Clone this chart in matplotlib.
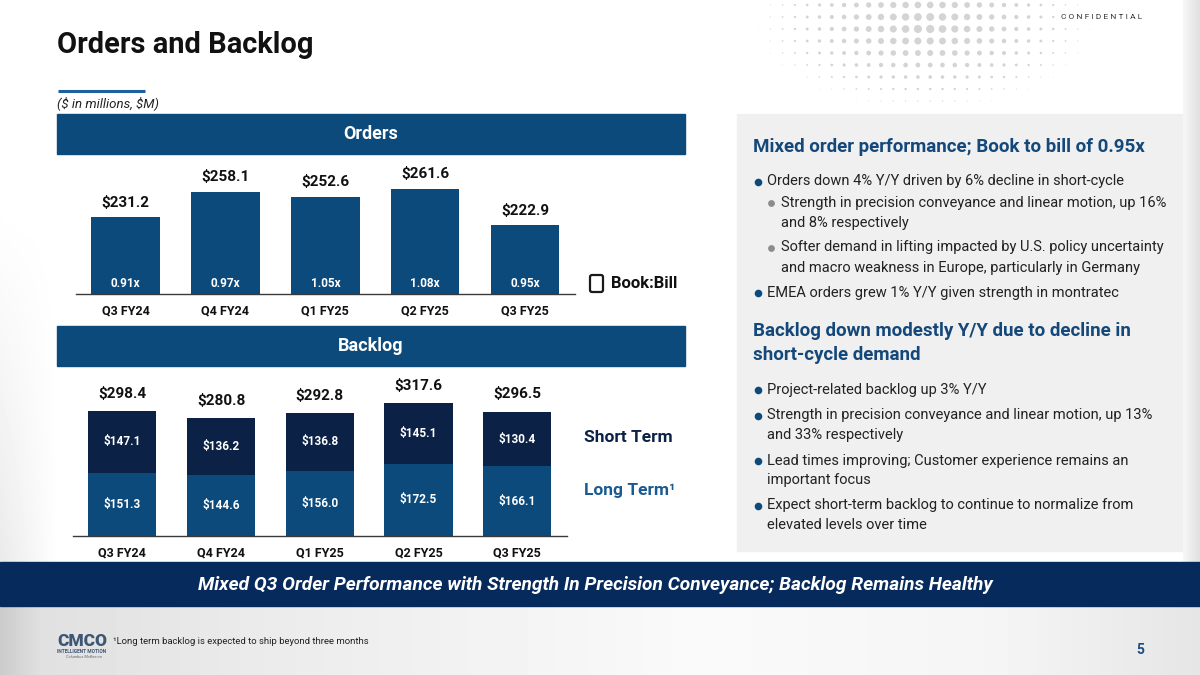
import matplotlib.pyplot as plt
import numpy as np
from matplotlib.patches import Rectangle, FancyBboxPatch

plt.rcParams['font.family'] = ['Roboto', 'DejaVu Sans']

# data
quarters = ["Q3 FY24", "Q4 FY24", "Q1 FY25", "Q2 FY25", "Q3 FY25"]
orders = [231.2, 258.1, 252.6, 261.6, 222.9]
book_to_bill = [0.91, 0.97, 1.05, 1.08, 0.95]
backlog_long = [151.3, 144.6, 156.0, 172.5, 166.1]
backlog_short = [147.1, 136.2, 136.8, 145.1, 130.4]
backlog_total = [298.4, 280.8, 292.8, 317.6, 296.5]

orders_points = [
    (0, "Orders down 4% Y/Y driven by 6% decline in short-cycle"),
    (1, "Strength in precision conveyance and linear motion, up 16%\nand 8% respectively"),
    (1, "Softer demand in lifting impacted by U.S. policy uncertainty\nand macro weakness in Europe, particularly in Germany"),
    (0, "EMEA orders grew 1% Y/Y given strength in montratec"),
]
backlog_points = [
    "Project-related backlog up 3% Y/Y",
    "Strength in precision conveyance and linear motion, up 13%\nand 33% respectively",
    "Lead times improving; Customer experience remains an\nimportant focus",
    "Expect short-term backlog to continue to normalize from\nelevated levels over time",
]

BLUE = "#0d4a7c"
NAVY = "#0b2145"
BANNER = "#072a5c"
HEAD = "#15487a"
W, H = 1200, 675


def rect(x0, y0, x1, y1):
    # pixel box (top-left origin) -> figure rect
    return [x0 / W, 1 - y1 / H, (x1 - x0) / W, (y1 - y0) / H]


fig = plt.figure(figsize=(12, 6.75), dpi=100)

# background layer in pixel coordinates
bg = fig.add_axes([0, 0, 1, 1], zorder=0)
bg.set_xlim(0, W)
bg.set_ylim(H, 0)
bg.axis("off")

# footer gradient
gx = np.linspace(0, W, 300)
shade = np.interp(gx, [0, 40, 250, 700, 1000, 1200], [0.80, 0.88, 0.92, 0.98, 0.96, 0.90])
bg.imshow(np.tile(shade, (2, 1)), cmap="gray", vmin=0, vmax=1,
          extent=[0, W, H, 606], aspect="auto", zorder=0)
# right edge strip
strip = np.interp(np.linspace(0, 1, 20), [0, 1], [0.97, 0.88])
bg.imshow(np.tile(strip, (2, 1)), cmap="gray", vmin=0, vmax=1,
          extent=[1183, W, 562, 0], aspect="auto", zorder=0)
# faint left edge shading, fading towards the top
lx, ly = np.meshgrid(np.linspace(1, 0, 30), np.linspace(0, 1, 60))
bg.imshow(1 - 0.08 * lx * ly, cmap="gray", vmin=0, vmax=1,
          extent=[0, 60, 562, 200], aspect="auto", zorder=0)

# halftone dots top right
dx, dy = np.meshgrid(np.arange(758, 1110, 12.3), np.arange(5, 106, 12))
rad = 1 - np.sqrt(((dx - 925) / 180.0) ** 2 + ((dy - 25) / 90.0) ** 2)
keep = rad > 0.03
bg.scatter(dx[keep], dy[keep], s=(2 * 4.3 * rad[keep] * 0.72) ** 2,
           color="#d4d4d4", linewidths=0, zorder=1)

bg.text(1142, 17, "C O N F I D E N T I A L", fontsize=6, color="#333333",
        ha="right", va="center")

# title
bg.text(57, 45, "Orders and Backlog", fontsize=20.9, fontweight="bold",
        color="#111111", ha="left", va="center")
bg.plot([58, 145], [90.7, 90.7], color="#1d5fa3", lw=2.2, solid_capstyle="butt")
bg.text(57, 103, r"(\$ in millions, \$M)", fontsize=9.5, fontstyle="italic",
        color="#222222", ha="left", va="center")

# section headers
for y0, label in [(114, "Orders"), (326, "Backlog")]:
    bg.add_patch(Rectangle((57, y0), 628, 40, color=BLUE, zorder=2))
    bg.text(371, y0 + 20, label, fontsize=13, fontweight="bold", color="white",
            ha="center", va="center", zorder=3)

# legends
bg.add_patch(FancyBboxPatch((590, 275), 13, 17, boxstyle="round,pad=0,rounding_size=2",
                            fill=False, ec="#1a1a1a", lw=1.6, zorder=3))
bg.text(611, 283.5, "Book:Bill", fontsize=12, fontweight="bold", color="#111111",
        ha="left", va="center")
bg.text(584, 438, "Short Term", fontsize=12.5, fontweight="bold", color=NAVY,
        ha="left", va="center")
bg.text(584, 490, "Long Term¹", fontsize=12.5, fontweight="bold", color="#1b5a90",
        ha="left", va="center")

# right commentary panel
bg.add_patch(Rectangle((737, 114), 445, 437, color="#f0f0f0", zorder=1))
bg.text(753, 146.5, "Mixed order performance; Book to bill of 0.95x", fontsize=13.5,
        fontweight="bold", color=HEAD, ha="left", va="center", zorder=3)

line_gap = 20.5
y = 181.5
for level, txt in orders_points:
    dot_x, txt_x = (758, 767) if level == 0 else (771, 781)
    dot_c = BLUE if level == 0 else "#8c8c8c"
    bg.scatter([dot_x], [y], s=30 if level == 0 else 24, color=dot_c,
               linewidths=0, zorder=3)
    for k, part in enumerate(txt.split("\n")):
        bg.text(txt_x, y + k * line_gap, part, fontsize=10.5, color="#222222",
                ha="left", va="center", zorder=3)
    y += line_gap * len(txt.split("\n")) + (4 if level == 1 else 0.5)

bg.text(753, 330.5, "Backlog down modestly Y/Y due to decline in", fontsize=13.5,
        fontweight="bold", color=HEAD, ha="left", va="center", zorder=3)
bg.text(753, 355, "short-cycle demand", fontsize=13.5,
        fontweight="bold", color=HEAD, ha="left", va="center", zorder=3)
y = 390
for txt in backlog_points:
    bg.scatter([758], [y], s=30, color=BLUE, linewidths=0, zorder=3)
    parts = txt.split("\n")
    for k, part in enumerate(parts):
        bg.text(767, y + k * 19.5, part, fontsize=10.5, color="#222222",
                ha="left", va="center", zorder=3)
    y += 19.5 * len(parts) + 6

# bottom banner
bg.add_patch(Rectangle((0, 562), W, 44, color=BANNER, zorder=2))
bg.text(595, 585, "Mixed Q3 Order Performance with Strength In Precision Conveyance; "
        "Backlog Remains Healthy", fontsize=13.8, fontweight="bold", fontstyle="italic",
        color="white", ha="center", va="center", zorder=3)

# footer
bg.text(57, 641, "CMCO", fontsize=12.5, fontweight="black", color="#3d5673",
        ha="left", va="center", zorder=3)
bg.text(57, 651.5, "INTELLIGENT MOTION", fontsize=3.5, fontweight="bold",
        color="#3d5673", ha="left", va="center", zorder=3)
bg.text(66, 656.5, "Columbus McKinnon", fontsize=2.8, color="#666666",
        ha="left", va="center", zorder=3)
bg.text(113, 642, "¹Long term backlog is expected to ship beyond three months",
        fontsize=6.8, color="#222222", ha="left", va="center", zorder=3)
bg.text(1140, 650, "5", fontsize=10, fontweight="bold", color="#1d4f82",
        ha="center", va="center", zorder=3)

x = np.arange(len(quarters))

# orders chart
ax1 = fig.add_axes(rect(75.7, 160, 575, 294.3), zorder=2)
ax1.patch.set_alpha(0)
ax1.bar(x, orders, width=0.686, color=BLUE)
ax1.set_xlim(-0.5, 4.5)
ax1.set_ylim(150, 150 + 134.3 / 0.948)
for i, v in enumerate(orders):
    ax1.annotate(f"${v:.1f}", (i, v), xytext=(0, 5.5), textcoords="offset points",
                 ha="center", va="bottom", fontsize=11, fontweight="bold", color="#111111")
for i, b in enumerate(book_to_bill):
    ax1.annotate(f"{b:.2f}x", (i, 150), xytext=(0, 8), textcoords="offset points",
                 ha="center", va="center", fontsize=8.5, fontweight="bold", color="white")

# backlog chart
ax2 = fig.add_axes(rect(73, 380, 566.6, 536), zorder=2)
ax2.patch.set_alpha(0)
ax2.bar(x, backlog_long, width=0.69, color=BLUE)
ax2.bar(x, backlog_short, width=0.69, bottom=backlog_long, color=NAVY)
ax2.set_xlim(-0.5, 4.5)
ax2.set_ylim(0, 156 / 0.419)
for i in range(len(quarters)):
    lo, sh = backlog_long[i], backlog_short[i]
    ax2.text(i, lo / 2, f"${lo:.1f}", ha="center", va="center", fontsize=8.5,
             fontweight="bold", color="white")
    ax2.text(i, lo + sh / 2, f"${sh:.1f}", ha="center", va="center", fontsize=8.5,
             fontweight="bold", color="white")
    ax2.annotate(f"${backlog_total[i]:.1f}", (i, backlog_total[i]), xytext=(0, 7.5),
                 textcoords="offset points", ha="center", va="bottom", fontsize=11,
                 fontweight="bold", color="#111111")

for ax in (ax1, ax2):
    for side in ("top", "right", "left"):
        ax.spines[side].set_visible(False)
    ax.spines["bottom"].set_color("#3a3a3a")
    ax.spines["bottom"].set_linewidth(1.0)
    ax.set_yticks([])
    ax.set_xticks(x, quarters)
    ax.tick_params(axis="x", length=0, pad=7.5, labelsize=9, labelcolor="#111111")
    for lab in ax.get_xticklabels():
        lab.set_fontweight("bold")

fig.savefig("out.png", dpi=100)
